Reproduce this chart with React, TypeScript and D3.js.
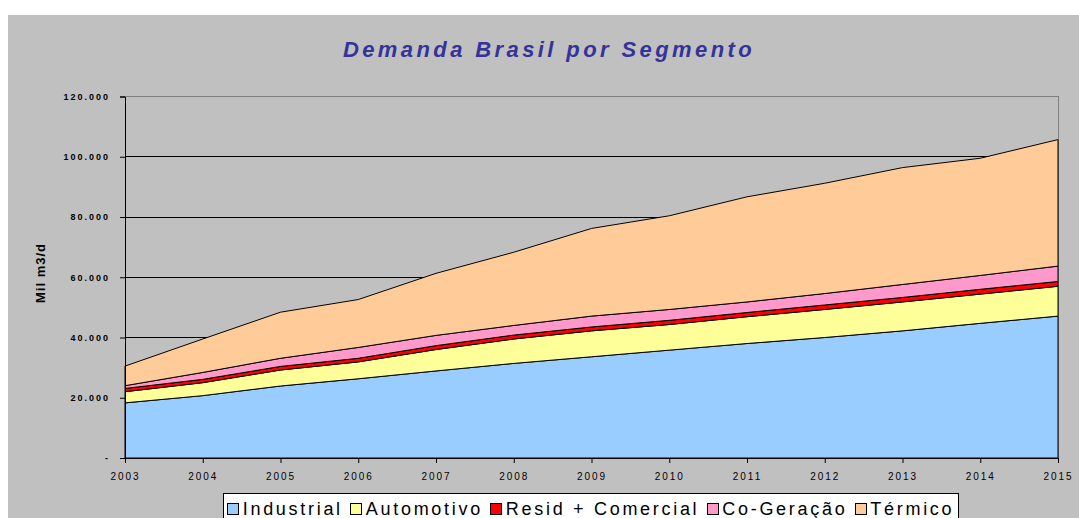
import React, { useEffect, useRef } from 'react';
import * as d3 from 'd3';

const years = ['2003', '2004', '2005', '2006', '2007', '2008', '2009', '2010', '2011', '2012', '2013', '2014', '2015'];
const industrial = [18300, 20700, 23900, 26300, 28900, 31400, 33600, 35800, 38000, 40000, 42200, 44700, 47100];
const automotivo = [3700, 4300, 5300, 5600, 7100, 8100, 8600, 8500, 8900, 9300, 9600, 9700, 9900];
const residComercial = [1100, 1100, 1200, 1200, 1300, 1300, 1300, 1400, 1400, 1500, 1500, 1600, 1600];
const coGeracao = [900, 2300, 2700, 3600, 3400, 3200, 3600, 3600, 3500, 3800, 4300, 4600, 5100];
const termico = [6500, 11100, 15300, 15900, 20600, 24300, 29100, 31100, 34900, 36600, 38800, 38900, 42000];

const seriesNames = ['Industrial', 'Automotivo', 'Resid + Comercial', 'Co-Geração', 'Térmico'];
const seriesColors = ['#99CCFF', '#FFFF99', '#FF0000', '#FF99CC', '#FFCC99'];

const yTicks = [0, 20000, 40000, 60000, 80000, 100000, 120000];
const yTickLabels = ['-', '20.000', '40.000', '60.000', '80.000', '100.000', '120.000'];

const W = 1079;
const H = 518;

const App = () => {
  const ref = useRef<SVGSVGElement | null>(null);

  useEffect(() => {
    const svg = d3.select(ref.current);
    svg.selectAll('*').remove();

    const font = 'Liberation Sans, Arial, sans-serif';
    const plot = { left: 125, right: 1058, top: 96.5, bottom: 458 };

    // grey chart background
    svg.append('rect').attr('x', 8).attr('y', 15).attr('width', W - 8).attr('height', H - 15).attr('fill', '#C0C0C0');

    svg.append('text')
      .attr('x', 549).attr('y', 57)
      .attr('text-anchor', 'middle')
      .style('font-family', font).style('font-size', '22px')
      .style('font-weight', 'bold').style('font-style', 'italic')
      .style('letter-spacing', '3.4px')
      .attr('fill', '#333399')
      .text('Demanda Brasil por Segmento');

    const x = d3.scalePoint<string>().domain(years).range([plot.left, plot.right]);
    const y = d3.scaleLinear().domain([0, 120000]).range([plot.bottom, plot.top]);

    const table = years.map((yr, i) => ({
      year: yr,
      'Industrial': industrial[i],
      'Automotivo': automotivo[i],
      'Resid + Comercial': residComercial[i],
      'Co-Geração': coGeracao[i],
      'Térmico': termico[i],
    }));
    const stacked = d3.stack<any>().keys(seriesNames)(table);

    // gridlines
    svg.append('g')
      .selectAll('line')
      .data(yTicks.filter(t => t > 0 && t < 120000))
      .join('line')
      .attr('x1', plot.left).attr('x2', plot.right)
      .attr('y1', d => y(d)).attr('y2', d => y(d))
      .attr('stroke', '#000').attr('stroke-width', 1).style('shape-rendering', 'crispEdges');

    // plot border (top and right)
    svg.append('path')
      .attr('d', `M${plot.left},${y(120000)}H${plot.right}V${plot.bottom}`)
      .attr('fill', 'none').attr('stroke', '#808080').style('shape-rendering', 'crispEdges');

    const area = d3.area<any>()
      .x(d => x(d.data.year) as number)
      .y0(d => y(d[0]))
      .y1(d => y(d[1]));

    svg.append('g')
      .selectAll('path')
      .data(stacked)
      .join('path')
      .attr('d', area)
      .attr('fill', (_, i) => seriesColors[i])
      .attr('stroke', '#000').attr('stroke-width', 1);

    // y axis
    const yAxis = svg.append('g').attr('transform', `translate(${plot.left},0)`)
      .call(d3.axisLeft(y).tickValues(yTicks).tickSize(5).tickPadding(10)
        .tickFormat((_, i) => yTickLabels[i]));
    yAxis.select('.domain').attr('stroke', '#000');
    yAxis.selectAll('text')
      .style('font-family', font).style('font-size', '9px').style('font-weight', 'bold')
      .style('letter-spacing', '2px').attr('fill', '#000');

    // x axis
    const xAxis = svg.append('g').attr('transform', `translate(0,${plot.bottom})`)
      .call(d3.axisBottom(x).tickSize(5).tickPadding(10));
    xAxis.select('.domain').attr('stroke', '#000');
    xAxis.selectAll('text')
      .style('font-family', font).style('font-size', '10px')
      .style('letter-spacing', '2px').attr('fill', '#000');

    svg.append('text')
      .attr('transform', 'translate(45,273) rotate(-90)')
      .attr('text-anchor', 'middle')
      .style('font-family', font).style('font-size', '13px').style('font-weight', 'bold')
      .style('letter-spacing', '1px')
      .text('Mil m3/d');

    // legend
    const legend = svg.append('g');
    const box = legend.append('rect')
      .attr('y', 493).attr('height', 40)
      .attr('fill', '#fff').attr('stroke', '#000').style('shape-rendering', 'crispEdges');
    let cx = 0;
    const items = legend.append('g');
    seriesNames.forEach((name, i) => {
      const g = items.append('g').attr('transform', `translate(${cx},0)`);
      g.append('rect')
        .attr('x', 0).attr('y', 503).attr('width', 11).attr('height', 11)
        .attr('fill', seriesColors[i]).attr('stroke', '#000').style('shape-rendering', 'crispEdges');
      const t = g.append('text')
        .attr('x', 15).attr('y', 515)
        .style('font-family', font).style('font-size', '18px')
        .style('letter-spacing', '2.7px')
        .text(name);
      const tw = (t.node() as SVGTextElement).getComputedTextLength();
      cx += 15 + tw + 8;
    });
    const total = cx - 8;
    const start = 591 - total / 2;
    items.attr('transform', `translate(${start},0)`);
    box.attr('x', start - 4).attr('width', total + 8);
  }, []);

  return (
    <svg ref={ref} width={W} height={H} style={{ position: 'absolute', left: 0, top: 0, background: '#fff' }} />
  );
};

export default App;
